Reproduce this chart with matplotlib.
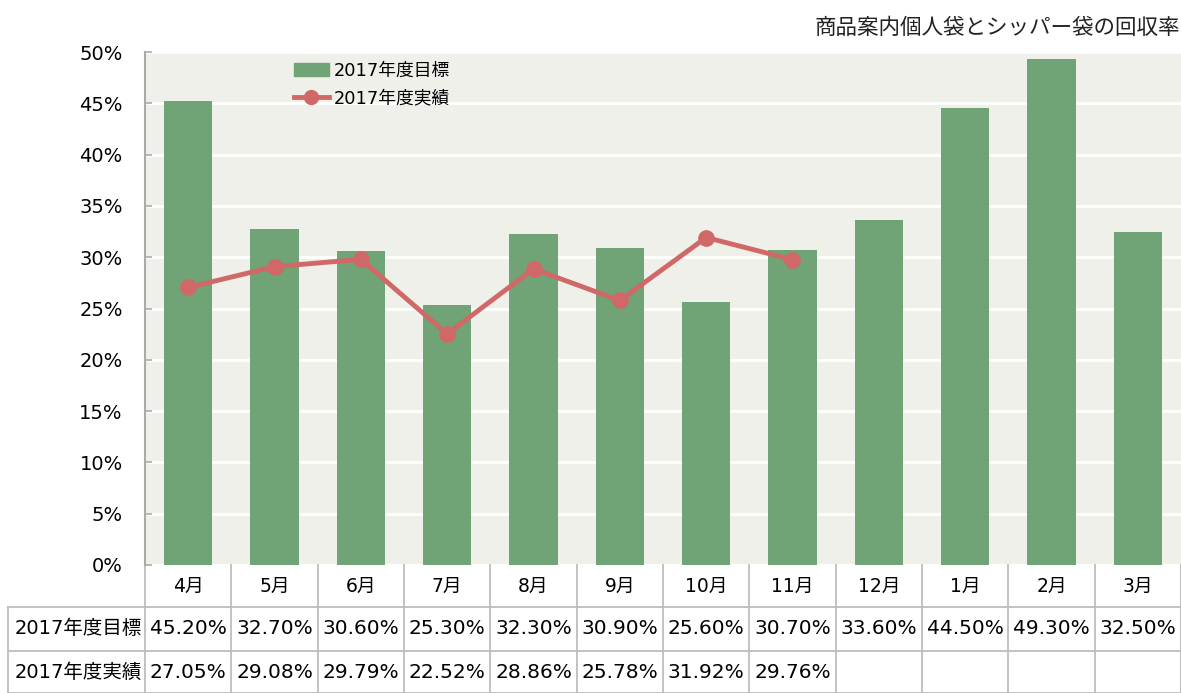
import matplotlib
matplotlib.use("Agg")
import matplotlib.pyplot as plt
from matplotlib.lines import Line2D
from matplotlib.patches import Patch
import matplotlib.transforms as mtransforms

plt.rcParams['font.family'] = ['DejaVu Sans', 'Noto Sans CJK JP']

months = ["4月", "5月", "6月", "7月", "8月", "9月", "10月", "11月", "12月", "1月", "2月", "3月"]
target = [45.20, 32.70, 30.60, 25.30, 32.30, 30.90, 25.60, 30.70, 33.60, 44.50, 49.30, 32.50]
actual = [27.05, 29.08, 29.79, 22.52, 28.86, 25.78, 31.92, 29.76]
target_name = "2017年度目標"
actual_name = "2017年度実績"
title = "商品案内個人袋とシッパー袋の回収率"
yticks = list(range(0, 51, 5))

BAR_COLOR = "#70a375"
LINE_COLOR = "#d16868"
BG = "#f0f0eb"
GRID = "#bdbdbd"

W, H = 1181, 693
fig = plt.figure(figsize=(W / 100, H / 100), dpi=100)
left, right, top, bottom = 145, 1181, 52, 565
ax = fig.add_axes([left / W, 1 - bottom / H, (right - left) / W, (bottom - top) / H])
ax.set_facecolor(BG)

x = list(range(len(months)))
ax.bar(x, target, width=0.56, color=BAR_COLOR, zorder=2, label=target_name)
ax.plot(x[:len(actual)], actual, color=LINE_COLOR, lw=3.5, marker="o", ms=11,
        zorder=3, label=actual_name)

ax.set_xlim(-0.5, len(months) - 0.5)
ax.set_ylim(0, 50)
ax.set_yticks(yticks)
ax.set_yticklabels([f"{t}%" for t in yticks], fontsize=14)
ax.set_xticks([])
ax.yaxis.grid(True, color="white", lw=2, zorder=1)
ax.set_axisbelow(True)
for s in ["top", "right", "bottom"]:
    ax.spines[s].set_visible(False)
ax.spines["left"].set_color("#aaaaaa")
ax.spines["left"].set_linewidth(1.5)
ax.tick_params(axis="y", direction="in", length=5, width=1.2, color="#aaaaaa", pad=16)

# legend
handles = [Patch(color=BAR_COLOR, label=target_name),
           Line2D([], [], color=LINE_COLOR, lw=3.5, marker="o", ms=10, label=actual_name)]
ax.legend(handles=handles, loc="upper left", bbox_to_anchor=(0.128, 1.012), frameon=False,
          fontsize=12.8, handlelength=2.0, handletextpad=0.25, labelspacing=0.55,
          handleheight=0.7)

# title
fig.text(1180 / W, 1 - 28 / H, title, ha="right", va="center", fontsize=15.5,
         color="#222222")

# data table below the axes
trans = mtransforms.blended_transform_factory(ax.transData, ax.transAxes)
ah = bottom - top
r1 = -(607 - bottom) / ah
r2 = -(651 - bottom) / ah
r3 = -(693 - bottom) / ah
label_left = (8 - left) / (right - left)
lkw = dict(color=GRID, lw=1.3, clip_on=False)

# category row
for i in range(len(months) + 1):
    ax.plot([i - 0.5, i - 0.5], [0, r3], transform=trans, **lkw)
for i, m in enumerate(months):
    ax.text(i, r1 / 2, m, transform=trans, ha="center", va="center", fontsize=13.5)

# value rows
ax.plot([label_left, 1], [r1, r1], transform=ax.transAxes, **lkw)
ax.plot([label_left, 1], [r2, r2], transform=ax.transAxes, **lkw)
ax.plot([label_left, 1], [r3, r3], transform=ax.transAxes, **lkw)
ax.plot([label_left, label_left], [r1, r3], transform=ax.transAxes, **lkw)
ax.plot([1, 1], [0, r3], transform=ax.transAxes, **lkw)

ax.text(label_left + 0.006, (r1 + r2) / 2, target_name, transform=ax.transAxes,
        ha="left", va="center", fontsize=14)
ax.text(label_left + 0.006, (r2 + r3) / 2, actual_name, transform=ax.transAxes,
        ha="left", va="center", fontsize=14)
for i, v in enumerate(target):
    ax.text(i, (r1 + r2) / 2, f"{v:.2f}%", transform=trans, ha="center", va="center",
            fontsize=14.5)
for i, v in enumerate(actual):
    ax.text(i, (r2 + r3) / 2, f"{v:.2f}%", transform=trans, ha="center", va="center",
            fontsize=14.5)

fig.savefig("out.png", dpi=100)
